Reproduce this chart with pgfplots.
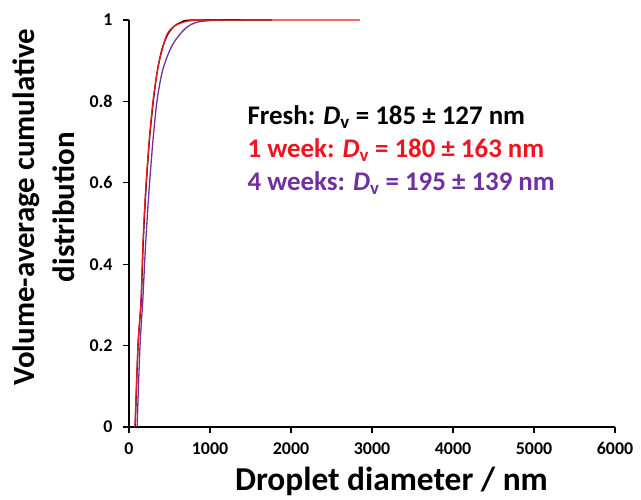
\documentclass[border=0pt]{standalone}
\usepackage{fontspec}
\setmainfont{Carlito}
\usepackage{pgfplots}
\pgfplotsset{compat=1.18}
\definecolor{wkred}{RGB}{240,20,30}
\definecolor{wkpurple}{RGB}{112,48,160}
\begin{document}
\begin{tikzpicture}[x=1bp,y=1bp]
\begin{axis}[
  scale only axis, width=486bp, height=407bp,
  xmin=0, xmax=6000, ymin=0, ymax=1,
  axis x line*=bottom, axis y line*=left,
  axis line style={line width=1.4pt},
  tick style={line width=1.4pt, black},
  tick align=outside, major tick length=6bp,
  xtick={0,1000,...,6000}, ytick={0,0.2,...,1},
  /pgf/number format/1000 sep={},
  /pgf/number format/assume math mode=true,
  ticklabel style={font=\bfseries\fontsize{18}{20}\selectfont},
  xticklabel style={yshift=-6bp},
  yticklabel style={/pgf/number format/fixed, xshift=-7bp},
  xlabel={Droplet diameter / nm},
  xlabel style={font=\bfseries\fontsize{33.5}{38}\selectfont,
    at={(axis description cs:0.54,-0.155)}, anchor=base},
  ylabel={Volume-average cumulative\\distribution},
  ylabel style={font=\bfseries\fontsize{31}{40}\selectfont, align=center,
    at={(axis description cs:-0.105,0.54)}, anchor=south},
  clip=false,
]
% fresh
\addplot[black, line width=1.3pt, smooth] coordinates {
 (76,0)(112,0.2)(150,0.31)(175,0.45)(205,0.57)(250,0.70)(300,0.80)(350,0.875)
 (410,0.93)(480,0.965)(560,0.985)(650,0.995)(800,1)(1765,1)};
% 4 weeks
\addplot[wkpurple, line width=1.3pt, smooth] coordinates {
 (100,0)(136,0.2)(170,0.31)(200,0.43)(240,0.56)(290,0.69)(345,0.80)(420,0.88)
 (540,0.94)(700,0.98)(850,0.995)(1100,1)};
% 1 week
\addplot[wkred, line width=1.3pt, smooth] coordinates {
 (74,0)(111,0.2)(148,0.31)(172,0.45)(202,0.57)(248,0.70)(296,0.80)(350,0.875)
 (400,0.92)(470,0.965)(560,0.985)(650,0.993)(750,0.998)(1000,1)(2000,1)(2850,1)};
\node[anchor=west, font=\bfseries\fontsize{27}{30}\selectfont, text=black]
  at (axis cs:1420,0.762) {Fresh: \textit{D}\textsubscript{v} = 185 ± 127 nm};
\node[anchor=west, font=\bfseries\fontsize{27}{30}\selectfont, text=wkred]
  at (axis cs:1420,0.681) {1 week: \textit{D}\textsubscript{v} = 180 ± 163 nm};
\node[anchor=west, font=\bfseries\fontsize{27}{30}\selectfont, text=wkpurple]
  at (axis cs:1420,0.600) {4 weeks: \textit{D}\textsubscript{v} = 195 ± 139 nm};
\end{axis}
\pgfresetboundingbox
\path (-129bp,-73bp) rectangle (512bp,427bp);
\end{tikzpicture}
\end{document}
